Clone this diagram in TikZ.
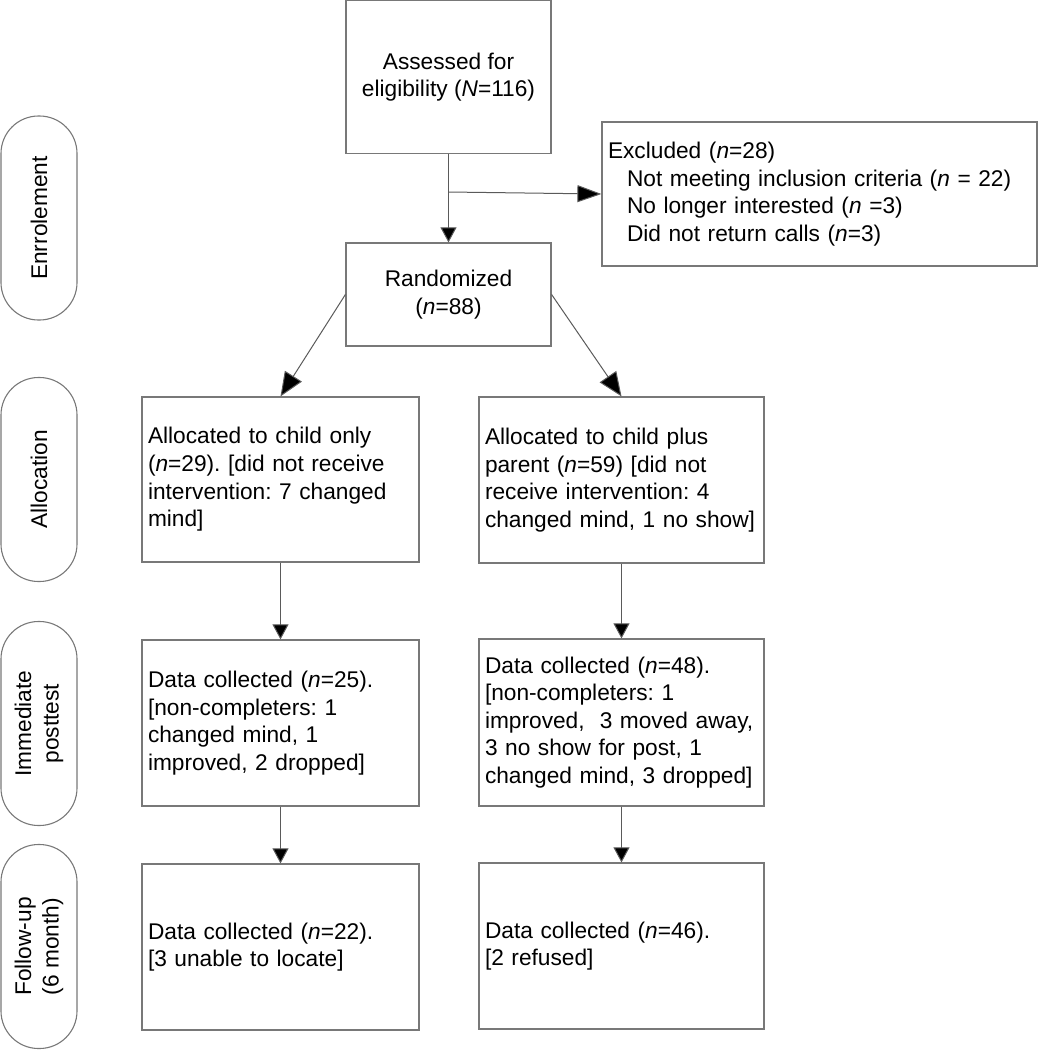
\documentclass[tikz,border=0pt]{standalone}
\usepackage{fontspec}
\setmainfont{Liberation Sans}
\usetikzlibrary{arrows.meta}
\definecolor{boxgray}{RGB}{120,120,120}
\definecolor{linegray}{RGB}{90,90,90}
\frenchspacing
\begin{document}
\begin{tikzpicture}[x=1pt,y=-1pt,
  every node/.style={font=\fontsize{22.7pt}{27.6pt}\selectfont},
  box/.style={draw=boxgray, line width=1.2pt, inner xsep=6pt, inner ysep=0pt},
  leftbox/.style={box, align=left, text width=#1-12pt, minimum width=#1},
  pill/.style={draw=boxgray, line width=1.1pt, rotate=90, rounded corners=37.5pt,
    minimum width=204pt, minimum height=76pt, inner sep=0pt, align=center},
  conn/.style={draw=linegray, line width=1pt},
  vtip/.style={-{Triangle[length=15pt,width=16pt,fill=black]}},
  dtip/.style={-{Triangle[length=24pt,width=20pt,fill=black]}},
  htip/.style={-{Triangle[length=24pt,width=17pt,fill=black]}}
]
\useasboundingbox (0,0) rectangle (1038,1050);

% stage labels
\node[pill] (enrol) at (39,218) {Enrrolement};
\node[pill] (alloc) at (39,479.5) {Allocation};
\node[pill] (post) at (39,723.5) {Immediate\\posttest};
\node[pill] (fu) at (39,946.5) {Follow-up\\(6 month)};

% boxes
\node[box, minimum width=205pt, minimum height=153pt, align=center] (assess) at (448.5,77.2)
  {Assessed for\\eligibility (\textit{N}=116)};
\node[box, minimum width=435pt, minimum height=144pt, align=left, text width=423pt] (excl) at (819.5,194)
  {Excluded (\textit{n}=28)\\
   \hspace*{19pt}Not meeting inclusion criteria (\textit{n} = 22)\\
   \hspace*{19pt}No longer interested (\textit{n} =3)\\
   \hspace*{19pt}Did not return calls (\textit{n}=3)};
\node[box, minimum width=205pt, minimum height=103pt, align=center] (rand) at (448.5,294.5)
  {Randomized\\(\textit{n}=88)};

\node[leftbox=277pt, minimum height=165pt] (allocL) at (280.5,479.5)
  {Allocated to child only\\(\textit{n}=29). [did not receive\\intervention: 7 changed\\mind]};
\node[leftbox=285pt, minimum height=166pt] (allocR) at (621.5,480)
  {Allocated to child plus\\parent (\textit{n}=59) [did not\\receive intervention: 4\\changed mind, 1 no show]};

\node[leftbox=277pt, minimum height=166pt] (postL) at (280.5,723)
  {Data collected (\textit{n}=25).\\{}[non-completers: 1\\changed mind, 1\\improved, 2 dropped]};
\node[leftbox=285pt, minimum height=167pt] (postR) at (621.5,722.5)
  {Data collected (\textit{n}=48).\\{}[non-completers: 1\\improved,\ \ 3 moved away,\\3 no show for post, 1\\changed mind, 3 dropped]};

\node[leftbox=277pt, minimum height=166pt] (fuL) at (280.5,947)
  {Data collected (\textit{n}=22).\\{}[3 unable to locate]};
\node[leftbox=285pt, minimum height=166pt] (fuR) at (621.5,946)
  {Data collected (\textit{n}=46).\\{}[2 refused]};

% connectors
\coordinate (branch) at (448.5,192);
\draw[conn, vtip] (assess.south) -- (rand.north);
\draw[conn, htip] (branch) -- (excl.west);
\draw[conn, dtip] (rand.west) -- (allocL.north);
\draw[conn, dtip] (rand.east) -- (allocR.north);
\draw[conn, vtip] (allocL.south) -- (postL.north);
\draw[conn, vtip] (allocR.south) -- (postR.north);
\draw[conn, vtip] (postL.south) -- (fuL.north);
\draw[conn, vtip] (postR.south) -- (fuR.north);
\end{tikzpicture}
\end{document}
